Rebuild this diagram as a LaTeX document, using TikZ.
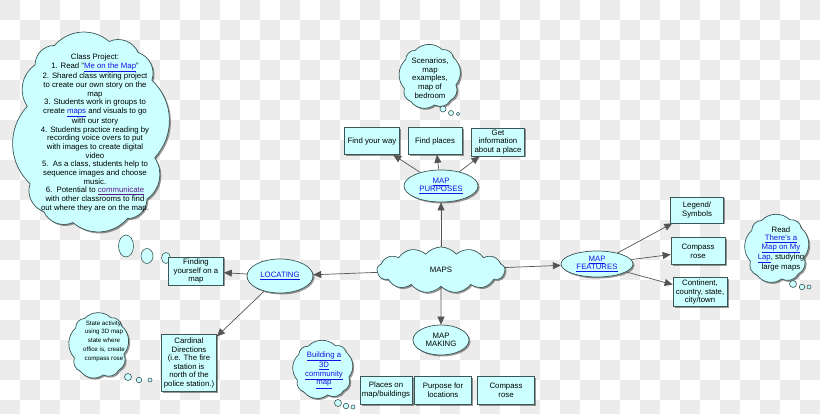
\documentclass[tikz,border=0pt]{standalone}
\usepackage{fontspec}
\setmainfont{Liberation Sans}
\usetikzlibrary{shapes.geometric,shapes.symbols,shadows,arrows.meta}
\definecolor{cfill}{RGB}{204,255,255}
\definecolor{cedge}{RGB}{60,85,85}
\definecolor{checkg}{RGB}{236,236,236}
\definecolor{lnkblue}{RGB}{20,20,230}
\definecolor{lnkpurple}{RGB}{85,26,139}
\definecolor{arrowc}{RGB}{85,85,85}
\newcommand{\lnk}[1]{\textcolor{lnkblue}{\underline{#1}}}
\newcommand{\vlnk}[1]{\textcolor{lnkpurple}{\underline{#1}}}
\tikzset{
  shad/.style={drop shadow={shadow xshift=1.5pt, shadow yshift=-1.5pt, fill=black, opacity=0.4}},
  box/.style={rectangle, draw=cedge, line width=0.7pt, fill=cfill, shad, align=center, inner sep=1pt, minimum height=27pt},
  oval/.style={ellipse, draw=cedge, line width=0.7pt, fill=cfill, shad, align=center, inner sep=0pt},
  cloudsh/.style={cloud, cloud ignores aspect, draw=cedge, line width=0.7pt, fill=cfill, shad, inner sep=0pt, align=center},
  cloudpath/.style={draw=cedge, line width=0.7pt, fill=cfill, shad},
  bub/.style={ellipse, draw=cedge, line width=0.6pt, fill=cfill, inner sep=0pt},
  ctext/.style={align=center, inner sep=0pt},
  conn/.style={draw=arrowc, line width=0.7pt, -{Triangle[length=8pt,width=7pt]}}
}
% name, cx, cy, inner half width, inner half height, number of puffs, bend
\newcommand{\thoughtcloud}[7]{%
  \foreach \k in {0,...,#6}{
    \pgfmathsetmacro{\cldt}{360*\k/#6 + 7}
    \pgfmathsetmacro{\cldc}{cos(\cldt)}
    \pgfmathsetmacro{\clds}{sin(\cldt)}
    \pgfmathsetmacro{\cldx}{#2 + #4*\cldc/(abs(\cldc)^0.4)}
    \pgfmathsetmacro{\cldy}{#3 + #5*\clds/(abs(\clds)^0.4)}
    \coordinate (#1-\k) at (\cldx,\cldy);
  }
  \draw[cloudpath] (#1-0) \foreach \k in {1,...,#6}{ to[bend left=#7] (#1-\k) } -- cycle;
}
\begin{document}
\begin{tikzpicture}[x=1pt,y=-1pt,font=\fontsize{7.8}{8.65}\selectfont]
\useasboundingbox (0,0) rectangle (820,414);
\begin{scope}
\clip (0,0) rectangle (820,414);
\fill[white] (0,0) rectangle (820,414);
\foreach \i in {0,40,...,800}{
  \foreach \j in {0,40,...,400}{
    \fill[checkg] (\i,\j) rectangle ++(20,20);
    \fill[checkg] (\i+20,\j+20) rectangle ++(20,20);
  }
}
\end{scope}

% big project cloud
\thoughtcloud{pc}{91}{132}{64}{91}{12}{45}
\node[ctext] (projtext) at (95,133) {Class Project:\\
1. Read "\lnk{Me on the Map}"\\
2. Shared class writing project\\
to create our own story on the\\
map\\
3. Students work in groups to\\
create \lnk{maps} and visuals to go\\
with our story\\
4. Students practice reading by\\
recording voice overs to put\\
with images to create digital\\
video\\
5.\ \ As a class, students help to\\
sequence images and choose\\
music.\\
6.\ \ Potential to \vlnk{communicate}\\
with other classrooms to find\\
out where they are on the map.};
\node[bub, minimum width=15pt, minimum height=22pt] (pb1) at (126,246) {};
\node[bub, minimum width=12pt, minimum height=15pt] (pb2) at (147,256) {};
\node[bub, minimum width=9pt, minimum height=11pt] (pb3) at (166,258) {};

% scenarios cloud
\thoughtcloud{sc}{430}{77}{26}{28}{9}{45}
\node[ctext] (scentext) at (430,78) {Scenarios,\\ map\\ examples,\\ map of\\ bedroom};
\node[bub, minimum size=6pt] (sb1) at (443,109) {};
\node[bub, minimum size=5pt] (sb2) at (451,113) {};
\node[bub, minimum size=3.5pt] (sb3) at (458,114) {};

% state cloud
\thoughtcloud{st}{99}{346}{25}{29}{9}{45}
\node[ctext, font=\fontsize{6.2}{8.8}\selectfont] (statetext) at (104,341) {State activity,\\ using 3D map\\ state where\\ office is, create\\ compass rose};
\node[bub, minimum size=7pt] (stb1) at (128,377) {};
\node[bub, minimum size=5.5pt] (stb2) at (139,380) {};
\node[bub, minimum size=4pt] (stb3) at (150,380) {};

% read cloud
\thoughtcloud{rc}{777}{249}{27}{30}{9}{45}
\node[ctext] (readtext) at (781,249) {Read\\ \lnk{There's a}\\ \lnk{Map on My}\\ \lnk{Lap}, studying\\ large maps};
\node[bub, minimum size=7pt] (rb1) at (793,284) {};
\node[bub, minimum size=5.5pt] (rb2) at (802,287) {};
\node[bub, minimum size=4pt] (rb3) at (809,287) {};

% build cloud
\thoughtcloud{bc}{323}{370}{26}{25}{9}{45}
\node[ctext] (buildtext) at (324,370) {\lnk{Building a}\\ \lnk{3D}\\ \lnk{community}\\ \lnk{map}};
\node[bub, minimum size=7pt] (bb1) at (338,403) {};
\node[bub, minimum size=5.5pt] (bb2) at (346,406) {};
\node[bub, minimum size=4pt] (bb3) at (353,407) {};

% main nodes
\node[cloudsh, cloud puffs=13, cloud puff arc=100, minimum width=128pt, minimum height=46pt] (maps) at (441,270) {MAPS};
\node[oval, minimum width=66pt, minimum height=34pt] (locating) at (280,276) {\lnk{LOCATING}};
\node[oval, minimum width=56pt, minimum height=30pt] (mapmaking) at (441,340) {MAP\\ MAKING};
\node[oval, minimum width=74pt, minimum height=32pt] (mappurposes) at (441,186) {\lnk{MAP}\\ \lnk{PURPOSES}};
\node[oval, minimum width=72pt, minimum height=26pt] (mapfeatures) at (597,264) {\lnk{MAP}\\ \lnk{FEATURES}};

\node[box, minimum width=55pt, minimum height=28pt] (finding) at (196,271) {Finding\\ yourself on a\\ map};
\node[box, minimum width=55pt, minimum height=57pt] (cardinal) at (189,363) {Cardinal\\ Directions\\ (i.e. The fire\\ station is\\ north of the\\ police station.)};
\node[box, minimum width=55pt] (findway) at (372,141) {Find your way};
\node[box, minimum width=54pt] (findplaces) at (435,141) {Find places};
\node[box, minimum width=53pt, minimum height=28pt] (getinfo) at (498,142) {Get\\ information\\ about a place};
\node[box, minimum width=53pt, minimum height=26pt] (legend) at (697,210) {Legend/\\ Symbols};
\node[box, minimum width=54pt] (compassa) at (698,251) {Compass\\ rose};
\node[box, minimum width=54pt, minimum height=29pt] (continent) at (700,292) {Continent,\\ country, state,\\ city/town};
\node[box, minimum width=52pt, minimum height=28pt] (places) at (386,390) {Places on\\ map/buildings};
\node[box, minimum width=57pt, minimum height=28pt] (purpose) at (443,390) {Purpose for\\ locations};
\node[box, minimum width=57pt, minimum height=28pt] (compassb) at (506,390) {Compass\\ rose};

% connectors
\draw[conn] (maps) -- (locating);
\draw[conn] (locating) -- (finding);
\draw[conn] (locating) -- (cardinal);
\draw[conn] (maps) -- (mappurposes);
\draw[conn] (mappurposes) -- (findway);
\draw[conn] (mappurposes) -- (findplaces);
\draw[conn] (mappurposes) -- (getinfo);
\draw[conn] (maps) -- (mapmaking);
\draw[conn] (maps) -- (mapfeatures);
\draw[conn] (mapfeatures) -- (legend);
\draw[conn] (mapfeatures) -- (compassa);
\draw[conn] (mapfeatures) -- (continent);
\end{tikzpicture}
\end{document}
